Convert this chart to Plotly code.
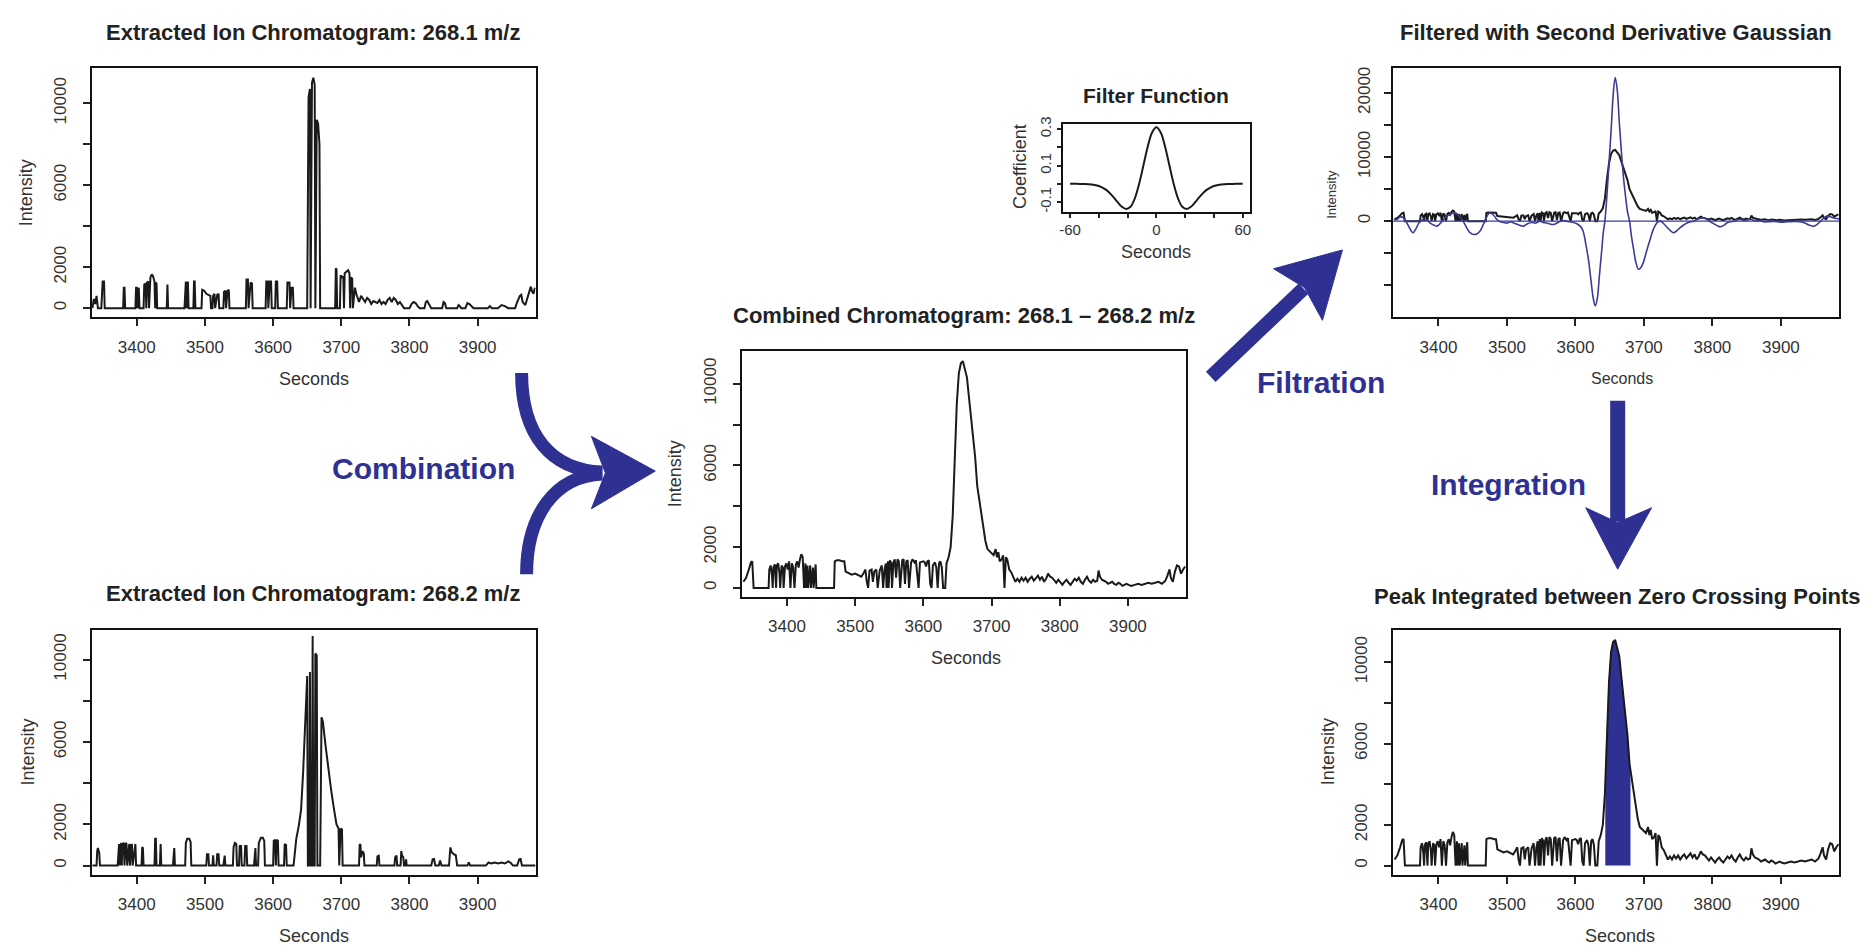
import numpy as np
import plotly.graph_objects as go

W, H = 1870, 949
FONT = "Liberation Sans, Arial, Helvetica, sans-serif"
BLUE = "#2E3192"
BLACK = "#1a1a1a"

# ---------------- data ----------------
# Extracted ion chromatogram 268.1 m/z
eic1_t = [3335, 3337, 3339, 3341, 3343, 3348, 3350, 3352, 3353, 3380, 3381, 3382, 3383, 3398, 3399, 3400, 3401,
          3402, 3403, 3404, 3410, 3411, 3413, 3414, 3415, 3417, 3418, 3420, 3422, 3424, 3426, 3427, 3428, 3429,
          3430, 3444, 3445, 3446, 3470, 3471, 3472, 3473, 3474, 3475, 3476, 3483, 3484, 3485, 3486, 3495, 3496,
          3499, 3502, 3505, 3508, 3509, 3511, 3512, 3514, 3515, 3518, 3520, 3521, 3527, 3528, 3530, 3531, 3533,
          3535, 3536, 3560, 3561, 3563, 3564, 3567, 3569, 3570, 3589, 3590, 3592, 3593, 3595, 3597, 3598, 3603,
          3604, 3606, 3607, 3620, 3621, 3624, 3625, 3627, 3629, 3630, 3650, 3652, 3654, 3655, 3657, 3659, 3661,
          3662, 3664, 3666, 3668, 3669, 3691, 3692, 3693, 3694, 3698, 3699, 3701, 3703, 3704, 3705, 3708, 3710,
          3712, 3713, 3714, 3716, 3717, 3720, 3722, 3724, 3726, 3729, 3732, 3735, 3738, 3741, 3744, 3747, 3750,
          3753, 3756, 3759, 3762, 3765, 3768, 3771, 3774, 3777, 3780, 3783, 3786, 3789, 3792, 3800, 3803, 3806,
          3809, 3812, 3815, 3822, 3824, 3826, 3829, 3832, 3848, 3850, 3852, 3854, 3870, 3872, 3874, 3876, 3882,
          3885, 3888, 3891, 3894, 3915, 3918, 3921, 3930, 3935, 3940, 3945, 3955, 3958, 3962, 3964, 3966, 3970,
          3973, 3976, 3978, 3980, 3982, 3984]
eic1_i = [0, 450, 200, 600, 0, 0, 1300, 1300, 0, 0, 1000, 1000, 0, 0, 1000, 1000, 0,
          1000, 1000, 0, 0, 1150, 1200, 0, 1250, 1300, 0, 1500, 1650, 1550, 1300, 0, 1250, 1200,
          0, 0, 1150, 0, 0, 1300, 1300, 0, 1300, 1300, 0, 0, 1300, 1300, 0, 0, 900,
          850, 700, 650, 600, 0, 0, 600, 700, 0, 650, 700, 0, 0, 800, 850, 0, 850,
          900, 0, 0, 1400, 1400, 0, 1250, 1200, 0, 0, 1300, 1300, 0, 1300, 1300, 0, 0,
          1300, 1300, 0, 0, 1250, 1250, 0, 1000, 1000, 0, 0, 10300, 10700, 0, 11000, 11250, 10900,
          0, 9200, 9000, 8000, 0, 0, 1950, 1900, 0, 0, 1600, 1500, 1550, 0, 1700, 1800, 1850,
          1700, 0, 1500, 1450, 0, 1000, 700, 500, 300, 600, 450, 300, 500, 400, 200, 350, 300,
          250, 400, 200, 300, 200, 400, 500, 300, 500, 400, 200, 300, 150, 0, 0, 200, 300,
          250, 100, 0, 0, 300, 350, 200, 0, 0, 300, 250, 0, 0, 150, 100, 0, 0,
          250, 200, 100, 0, 0, 100, 0, 0, 150, 100, 0, 0, 300, 600, 650, 300, 150,
          500, 900, 1050, 800, 700, 1000]

# Extracted ion chromatogram 268.2 m/z
eic2_t = [3335, 3341, 3342, 3343, 3345, 3346, 3372, 3373, 3374, 3375, 3376, 3377, 3378, 3379, 3381, 3382, 3384,
          3385, 3386, 3388, 3389, 3390, 3392, 3393, 3394, 3397, 3398, 3399, 3407, 3408, 3409, 3410, 3426, 3427,
          3428, 3429, 3434, 3435, 3436, 3453, 3454, 3455, 3456, 3471, 3472, 3474, 3477, 3479, 3480, 3502, 3503,
          3505, 3506, 3511, 3512, 3513, 3517, 3518, 3520, 3521, 3527, 3528, 3529, 3530, 3541, 3542, 3544, 3546,
          3547, 3550, 3551, 3553, 3554, 3558, 3559, 3561, 3562, 3572, 3573, 3574, 3575, 3578, 3579, 3582, 3585,
          3587, 3588, 3600, 3601, 3603, 3604, 3605, 3607, 3608, 3616, 3617, 3619, 3620, 3630, 3634, 3638, 3641,
          3644, 3647, 3650, 3651, 3653, 3654, 3655, 3657, 3658, 3659, 3661, 3662, 3664, 3665, 3669, 3671, 3673,
          3677, 3681, 3685, 3689, 3693, 3696, 3697, 3699, 3701, 3702, 3726, 3727, 3728, 3729, 3731, 3733, 3734,
          3752, 3753, 3755, 3756, 3778, 3779, 3781, 3782, 3787, 3788, 3789, 3791, 3792, 3794, 3795, 3796, 3832,
          3834, 3836, 3838, 3843, 3845, 3847, 3858, 3860, 3862, 3865, 3868, 3870, 3885, 3887, 3889, 3912, 3916,
          3920, 3925, 3930, 3935, 3940, 3945, 3948, 3952, 3958, 3961, 3963, 3965, 3985]
eic2_i = [0, 0, 700, 850, 600, 0, 0, 1000, 1050, 0, 1000, 1100, 0, 1050, 1100, 0, 1100,
          1050, 0, 1000, 1050, 0, 1050, 1000, 0, 1000, 1050, 0, 0, 900, 850, 0, 0, 1300,
          1300, 0, 0, 1050, 0, 0, 850, 850, 0, 0, 1100, 1300, 1300, 1150, 0, 0, 550,
          550, 0, 0, 500, 0, 0, 550, 550, 0, 0, 480, 480, 0, 0, 900, 1100, 1050,
          0, 0, 950, 950, 0, 0, 950, 950, 0, 0, 850, 850, 0, 0, 1100, 1350, 1350,
          1200, 0, 0, 1200, 1250, 0, 1250, 1200, 0, 0, 1050, 1000, 0, 0, 1300, 2000, 2700,
          4500, 6600, 9200, 0, 0, 9400, 0, 0, 11150, 0, 0, 10300, 10200, 0, 0, 7200, 7000,
          5800, 4700, 3700, 2800, 2000, 1800, 0, 1800, 1750, 0, 0, 1000, 1040, 400, 700, 600, 0,
          0, 450, 480, 0, 0, 400, 480, 0, 0, 700, 500, 400, 0, 0, 300, 0, 0,
          300, 320, 0, 0, 250, 0, 0, 880, 650, 550, 500, 0, 0, 160, 0, 0, 150,
          100, 150, 100, 150, 100, 200, 150, 0, 0, 300, 320, 0, 0]

# Combined chromatogram 268.1 - 268.2 m/z
comb_t = [3336, 3340, 3344, 3347, 3349, 3351, 3373, 3374, 3376, 3378, 3379, 3380, 3382, 3384, 3385, 3387, 3389,
          3390, 3392, 3394, 3395, 3397, 3399, 3401, 3403, 3405, 3407, 3409, 3411, 3413, 3415, 3417, 3419, 3421,
          3423, 3425, 3427, 3428, 3430, 3431, 3434, 3435, 3438, 3439, 3442, 3443, 3469, 3470, 3473, 3477, 3481,
          3484, 3486, 3490, 3495, 3500, 3505, 3509, 3512, 3515, 3517, 3519, 3521, 3524, 3526, 3528, 3531, 3533,
          3536, 3539, 3541, 3543, 3545, 3546, 3548, 3549, 3551, 3553, 3554, 3556, 3558, 3560, 3562, 3564, 3566,
          3569, 3571, 3573, 3575, 3577, 3579, 3582, 3584, 3587, 3589, 3591, 3593, 3595, 3598, 3600, 3602, 3604,
          3606, 3608, 3610, 3612, 3614, 3617, 3619, 3621, 3623, 3625, 3627, 3629, 3632, 3634, 3637, 3640, 3643,
          3646, 3649, 3652, 3655, 3658, 3661, 3664, 3667, 3670, 3673, 3676, 3679, 3682, 3685, 3688, 3691, 3694,
          3697, 3700, 3703, 3706, 3708, 3710, 3712, 3715, 3717, 3719, 3721, 3723, 3726, 3729, 3732, 3735, 3738,
          3741, 3744, 3747, 3750, 3753, 3756, 3759, 3762, 3765, 3768, 3771, 3774, 3777, 3780, 3783, 3786, 3789,
          3792, 3795, 3798, 3801, 3804, 3807, 3810, 3813, 3816, 3819, 3822, 3825, 3828, 3831, 3834, 3837, 3840,
          3843, 3846, 3849, 3852, 3855, 3857, 3859, 3862, 3865, 3868, 3871, 3874, 3877, 3880, 3883, 3886, 3889,
          3892, 3895, 3898, 3901, 3905, 3910, 3915, 3920, 3925, 3930, 3935, 3940, 3945, 3950, 3955, 3958, 3961,
          3963, 3966, 3969, 3972, 3975, 3978, 3981, 3984]
comb_i = [300, 500, 900, 1250, 1300, 0, 0, 900, 1100, 600, 0, 1000, 1150, 0, 1100, 1200, 700,
          0, 1100, 1000, 0, 1050, 1200, 900, 1300, 0, 1200, 1000, 0, 1150, 1300, 1000, 1400, 1650,
          1500, 0, 1200, 0, 1100, 0, 1100, 0, 1000, 0, 1150, 0, 0, 1300, 1350, 1350, 1300,
          1300, 800, 750, 650, 700, 600, 550, 700, 900, 300, 0, 850, 900, 300, 800, 900, 0,
          850, 1100, 0, 900, 1200, 0, 1300, 0, 1350, 1200, 0, 1250, 1400, 500, 1400, 1300, 0,
          1350, 1400, 200, 1300, 1350, 0, 1250, 1400, 1250, 1350, 600, 0, 1250, 1300, 1300, 1250, 1050,
          1300, 1350, 200, 0, 1100, 1250, 1000, 0, 1200, 1300, 1000, 0, 0, 1200, 1500, 2000, 3500,
          6500, 9000, 10500, 11000, 11100, 10700, 10300, 9300, 8300, 7600, 6400, 5000, 4300, 3800, 3000, 2300, 1900,
          1800, 1750, 1600, 1900, 1500, 1750, 1300, 1400, 1600, 0, 1500, 1400, 900, 760, 500, 300, 450,
          300, 500, 350, 500, 300, 450, 550, 350, 500, 600, 400, 550, 300, 450, 700, 550, 500,
          350, 250, 400, 300, 150, 300, 400, 250, 150, 300, 450, 350, 500, 300, 200, 400, 550,
          350, 250, 400, 300, 350, 850, 550, 400, 350, 300, 200, 250, 300, 200, 150, 250, 200,
          100, 150, 200, 150, 100, 150, 200, 150, 200, 250, 200, 250, 300, 200, 350, 600, 900,
          500, 300, 800, 1100, 1050, 700, 900, 1050]

# Filter function (second derivative Gaussian)
filt_s = [-60, -55, -50, -45, -40, -36, -33, -30, -27, -24, -21, -18, -15, -12, -9, -6, -3, 0,
          3, 6, 9, 12, 15, 18, 21, 24, 27, 30, 33, 36, 40, 45, 50, 55, 60]
filt_c = [0.000, -0.0003, -0.001, -0.004, -0.012, -0.028, -0.046, -0.072, -0.100, -0.126, -0.138, -0.126,
          -0.080, 0.000, 0.102, 0.205, 0.282, 0.310, 0.282, 0.205, 0.102, 0.000, -0.080, -0.126, -0.138,
          -0.126, -0.100, -0.072, -0.046, -0.028, -0.012, -0.004, -0.001, -0.0003, 0.000]

# Filtered chromatogram
filtd_t = [3335, 3339, 3343, 3346, 3350, 3355, 3360, 3363, 3367, 3372, 3378, 3383, 3388, 3393, 3398, 3403, 3408,
           3412, 3418, 3424, 3430, 3436, 3441, 3446, 3451, 3456, 3461, 3466, 3470, 3475, 3480, 3485, 3490, 3495,
           3500, 3505, 3510, 3515, 3520, 3524, 3530, 3536, 3542, 3548, 3553, 3558, 3563, 3568, 3573, 3578, 3583,
           3587, 3592, 3597, 3602, 3607, 3611, 3615, 3619, 3623, 3626, 3629, 3632, 3635, 3638, 3641, 3643, 3646,
           3649, 3652, 3655, 3658, 3661, 3664, 3667, 3670, 3673, 3676, 3679, 3682, 3685, 3688, 3692, 3695, 3699,
           3703, 3709, 3714, 3719, 3724, 3729, 3734, 3739, 3743, 3748, 3753, 3758, 3763, 3768, 3773, 3778, 3783,
           3787, 3792, 3797, 3802, 3807, 3811, 3816, 3821, 3826, 3831, 3836, 3841, 3846, 3851, 3856, 3861, 3865,
           3870, 3875, 3880, 3890, 3900, 3910, 3920, 3928, 3935, 3941, 3948, 3953, 3958, 3963, 3967, 3972, 3977,
           3982, 3985]
filtd_i = [300, 260, 600, 670, 400, -500, -1500, -1800, -1200, -200, 260, 200, -300, -600, -780, -300, 300,
           780, 1100, 1300, 800, 0, -1000, -1800, -2070, -2000, -1500, -400, 600, 1300, 1000, 300, -100, -200,
           -300, -100, -300, -500, -700, -780, -400, -200, -300, 0, -200, -300, -450, -520, -300, 0, 100,
           0, -100, -200, -400, -780, -1500, -3500, -6000, -9500, -12000, -13200, -12000, -8500, -5000, -1500, 0, 4000,
           9000, 14000, 19500, 22400, 20500, 15500, 11000, 7000, 4000, 1500, 0, -2500, -4400, -6300, -7500, -7300, -6500,
           -5000, -2850, -1200, -260, 0, -400, -1000, -1500, -1800, -1500, -1000, -600, -300, -100, 0, 300, 450,
           520, 300, -100, -400, -700, -880, -700, -300, -100, 0, 200, 300, 100, 200, 300, 100, 0,
           100, -100, -100, -50, -150, -100, -50, -100, -300, -600, -780, -500, 0, 500, 780, 700, 500,
           400, 350]

# zero-crossing points bounding the integrated peak
zero_cross = [3644, 3680]

# axis ticks
sec_ticks = [3400, 3500, 3600, 3700, 3800, 3900]
int_ticks = [0, 2000, 4000, 6000, 8000, 10000]
int_text = ["0", "2000", "", "6000", "", "10000"]
filtd_ticks = [-10000, -5000, 0, 5000, 10000, 15000, 20000]
filtd_text = ["", "", "0", "", "10000", "", "20000"]
coef_ticks = [-0.1, 0.0, 0.1, 0.2, 0.3]
coef_text = ["-0.1", "", "0.1", "", "0.3"]
lag_ticks = [-60, -40, -20, 0, 20, 40, 60]
lag_text = ["-60", "", "", "0", "", "", "60"]

# ---------------- layout helpers ----------------
def fx(p):
    return p / W


def fy(p):
    return 1 - p / H


def dom_x(a, b):
    return [a / W, b / W]


def dom_y(top, bottom):
    return [1 - bottom / H, 1 - top / H]


fig = go.Figure()

XR = [3334, 3985]


def axis_pair(i, xd, yd, xr, yr, xt, xtt, yt, ytt, tfs=17, xso=6, yso=10, tl=7):
    common = dict(showline=True, mirror=True, linecolor="#111", linewidth=2, showgrid=False, zeroline=False,
                  ticks="outside", ticklen=tl, tickwidth=1.6, tickcolor="#222",
                  tickfont=dict(family=FONT, size=tfs, color="#333"))
    sx = "" if i == 1 else str(i)
    fig.layout["xaxis" + sx] = dict(domain=xd, range=xr, tickvals=xt, ticktext=xtt, tickmode="array",
                                    anchor="y" + sx, ticklabelstandoff=xso, **common)
    fig.layout["yaxis" + sx] = dict(domain=yd, range=yr, tickvals=yt, ticktext=ytt, tickmode="array",
                                    anchor="x" + sx, tickangle=-90, ticklabelstandoff=yso, **common)


sec_text = [str(v) for v in sec_ticks]
axis_pair(1, dom_x(88, 533), dom_y(61, 312), XR, [-450, 11700], sec_ticks, sec_text, int_ticks, int_text)
axis_pair(2, dom_x(88, 533), dom_y(627, 874), XR, [-440, 11450], sec_ticks, sec_text, int_ticks, int_text)
axis_pair(3, dom_x(740, 1185), dom_y(346, 594), XR, [-445, 11600], sec_ticks, sec_text, int_ticks, int_text)
axis_pair(4, dom_x(1062, 1249), dom_y(117, 206), [-64.8, 64.8], [-0.156, 0.328], lag_ticks, lag_text,
          coef_ticks, coef_text, tfs=15, xso=-1, yso=0, tl=4)
axis_pair(5, dom_x(1393, 1840), dom_y(61, 312), XR, [-15000, 23800], sec_ticks, sec_text, filtd_ticks, filtd_text,
          yso=7)
axis_pair(6, dom_x(1393, 1840), dom_y(627, 874), XR, [-445, 11600], sec_ticks, sec_text, int_ticks, int_text)

LW = 2
fig.add_trace(go.Scatter(x=eic1_t, y=eic1_i, mode="lines", line=dict(color=BLACK, width=LW), xaxis="x", yaxis="y"))
fig.add_trace(go.Scatter(x=eic2_t, y=eic2_i, mode="lines", line=dict(color=BLACK, width=LW), xaxis="x2", yaxis="y2"))
fig.add_trace(go.Scatter(x=comb_t, y=comb_i, mode="lines", line=dict(color=BLACK, width=LW), xaxis="x3", yaxis="y3"))
fig.add_trace(go.Scatter(x=filt_s, y=filt_c, mode="lines", line=dict(color=BLACK, width=LW, shape="spline"),
                         xaxis="x4", yaxis="y4"))
fig.add_trace(go.Scatter(x=comb_t, y=comb_i, mode="lines", line=dict(color=BLACK, width=LW), xaxis="x5", yaxis="y5"))
fig.add_trace(go.Scatter(x=filtd_t, y=filtd_i, mode="lines", line=dict(color="#3b3b98", width=1.6, shape="spline"),
                         xaxis="x5", yaxis="y5"))

# integrated region
lo, hi = zero_cross
ct = np.array(comb_t, dtype=float)
ci = np.array(comb_i, dtype=float)
mask = (ct > lo) & (ct < hi)
fill_x = [lo, lo] + list(ct[mask]) + [hi, hi]
fill_y = [0, float(np.interp(lo, ct, ci))] + list(ci[mask]) + [float(np.interp(hi, ct, ci)), 0]
fig.add_trace(go.Scatter(x=fill_x, y=fill_y, mode="lines", fill="toself", fillcolor=BLUE,
                         line=dict(color=BLUE, width=0.5), xaxis="x6", yaxis="y6"))
fig.add_trace(go.Scatter(x=comb_t, y=comb_i, mode="lines", line=dict(color=BLACK, width=LW), xaxis="x6", yaxis="y6"))

shapes = []
# zero line in filtered panel
shapes.append(dict(type="line", xref="x5 domain", yref="y5", x0=0, x1=1, y0=0, y1=0,
                   line=dict(color="#3b3b98", width=1.3)))


def path(cmds):
    out = []
    for c, pts in cmds:
        seg = c
        for k in range(0, len(pts), 2):
            seg += " %.5f,%.5f" % (fx(pts[k]), fy(pts[k + 1]))
        out.append(seg)
    return " ".join(out)


# Combination arrow
shapes.append(dict(type="path", xref="paper", yref="paper", layer="above",
                   path=path([("M", [519, 368]), ("C", [519, 430, 548, 466, 600, 468])]),
                   line=dict(color=BLUE, width=13)))
shapes.append(dict(type="path", xref="paper", yref="paper", layer="above",
                   path=path([("M", [524, 571]), ("C", [524, 512, 552, 472, 600, 470])]),
                   line=dict(color=BLUE, width=13)))
shapes.append(dict(type="path", xref="paper", yref="paper", layer="above",
                   path=path([("M", [589, 432]), ("L", [653, 467]), ("L", [589, 505]), ("L", [603, 469])]) + " Z",
                   fillcolor=BLUE, line=dict(color=BLUE, width=1)))
# Filtration arrow
shapes.append(dict(type="path", xref="paper", yref="paper", layer="above",
                   path=path([("M", [1210, 372]), ("L", [1303, 283])]),
                   line=dict(color=BLUE, width=14)))
shapes.append(dict(type="path", xref="paper", yref="paper", layer="above",
                   path=path([("M", [1342, 244]), ("L", [1273, 263]), ("L", [1304, 282]), ("L", [1322, 315])]) + " Z",
                   fillcolor=BLUE, line=dict(color=BLUE, width=1)))
# Integration arrow
shapes.append(dict(type="path", xref="paper", yref="paper", layer="above",
                   path=path([("M", [1618, 396]), ("L", [1618, 518])]),
                   line=dict(color=BLUE, width=15)))
shapes.append(dict(type="path", xref="paper", yref="paper", layer="above",
                   path=path([("M", [1586, 504]), ("L", [1618, 566]), ("L", [1652, 504]), ("L", [1618, 519])]) + " Z",
                   fillcolor=BLUE, line=dict(color=BLUE, width=1)))

annotations = []


def ann(text, x, y, size, color="#222", bold=False, angle=0):
    annotations.append(dict(text=("<b>%s</b>" % text) if bold else text, x=fx(x), y=fy(y), xref="paper",
                            yref="paper", showarrow=False, xanchor="center", yanchor="middle", textangle=angle,
                            font=dict(family=FONT, size=size, color=color)))


TS = 22
ann("Extracted Ion Chromatogram: 268.1 m/z", 310, 25, TS, bold=True)
ann("Extracted Ion Chromatogram: 268.2 m/z", 310, 590, TS, bold=True)
ann("Combined Chromatogram: 268.1 \u2013 268.2 m/z", 963, 310, TS, bold=True)
ann("Filter Function", 1155, 88, 21, bold=True)
ann("Filtered with Second Derivative Gaussian", 1616, 25, TS, bold=True)
ann("Peak Integrated between Zero Crossing Points", 1618, 593, TS, bold=True)

AC = "#333"
ann("Seconds", 311, 374, 18, AC)
ann("Intensity", 22, 186, 18, AC, angle=-90)
ann("Seconds", 311, 936, 18, AC)
ann("Intensity", 24, 750, 18, AC, angle=-90)
ann("Seconds", 965, 656, 18, AC)
ann("Intensity", 673, 470, 18, AC, angle=-90)
ann("Seconds", 1155, 246, 18, AC)
ann("Coefficient", 1018, 160, 18, AC, angle=-90)
ann("Seconds", 1622, 374, 16, AC)
ann("Intensity", 1331, 188, 13, AC, angle=-90)
ann("Seconds", 1620, 936, 18, AC)
ann("Intensity", 1327, 750, 18, AC, angle=-90)

ann("Combination", 421, 464, 30, BLUE, bold=True)
ann("Filtration", 1321, 378, 30, BLUE, bold=True)
ann("Integration", 1509, 481, 30, BLUE, bold=True)

fig.update_layout(width=W, height=H, margin=dict(l=0, r=0, t=0, b=0), paper_bgcolor="white",
                  plot_bgcolor="white", showlegend=False, shapes=shapes, annotations=annotations,
                  font=dict(family=FONT))

fig.write_html("out.html", config={"displayModeBar": False},
               post_script="document.body.style.margin='0';document.body.style.overflow='hidden';")
